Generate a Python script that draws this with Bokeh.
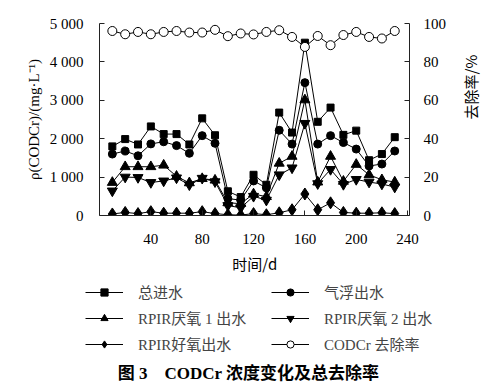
import math
from bokeh.plotting import figure
from bokeh.layouts import column
from bokeh.models import Range1d, LinearAxis, FixedTicker, Legend, LegendItem, Label
from bokeh.embed import file_html
from bokeh.resources import INLINE

days = [10, 20, 30, 40, 50, 60, 70, 80, 90, 100, 110, 120,
        130, 140, 150, 160, 170, 180, 190, 200, 210, 220, 230]
influent = [1800, 1990, 1850, 2320, 2120, 2120, 1850, 2530, 2090, 630, 480, 1060,
            800, 2680, 2160, 4500, 2440, 2810, 2100, 2210, 1440, 1600, 2040]
flotation = [1600, 1680, 1555, 1865, 1920, 1820, 1620, 2080, 1880, 440, 400, 900,
             720, 2220, 1860, 3460, 1860, 2080, 1900, 1730, 1290, 1340, 1680]
anaerobic1 = [860, 1270, 1270, 1270, 1310, 1020, 850, 960, 920, 330, 310, 560,
              490, 1360, 1540, 3010, 870, 1540, 890, 1330, 1060, 930, 870]
anaerobic2 = [640, 1000, 990, 860, 900, 980, 800, 970, 880, 260, 200, 500,
              400, 1060, 1240, 2400, 830, 1200, 810, 940, 870, 820, 740]
aerobic = [40, 80, 50, 100, 60, 60, 60, 100, 50, 20, 10, 50,
           20, 70, 150, 560, 150, 330, 80, 60, 60, 70, 50]
removal = [96.1, 94.4, 95.6, 94.4, 95.6, 96.1, 95.3, 95.3, 96.7, 93.4, 94.8, 94.3,
           95.6, 96.5, 93.0, 87.8, 93.5, 88.7, 94.0, 95.6, 93.0, 92.2, 96.1]

x_ticks = [40, 80, 120, 160, 200, 240]
y_ticks = [0, 1000, 2000, 3000, 4000, 5000]
y_tick_labels = ["0", "1 000", "2 000", "3 000", "4 000", "5 000"]
r_ticks = [0, 20, 40, 60, 80, 100]
series_labels = ["总进水", "气浮出水", "RPIR厌氧 1 出水", "RPIR厌氧 2 出水",
                 "RPIR好氧出水", "CODCr 去除率"]
markers = ["square", "circle", "triangle", "inverted_triangle", "diamond", "circle"]
marker_sizes = [7, 8, 10, 10, 12, 9]
fills = ["black", "black", "black", "black", "black", "white"]
fig_title = "图 3　CODCr 浓度变化及总去除率"

SERIF = "Liberation Serif, Noto Sans CJK SC"
CJK = "Noto Sans CJK SC"
W = 494

p = figure(width=W, height=280, x_range=Range1d(0, 241.5), y_range=Range1d(0, 5000),
           output_backend="svg", toolbar_location=None,
           min_border_left=99, min_border_right=77, min_border_top=23, min_border_bottom=65)
p.extra_y_ranges = {"pct": Range1d(0, 100)}
p.outline_line_color = None
p.xgrid.visible = False
p.ygrid.visible = False

right = LinearAxis(y_range_name="pct")
p.add_layout(right, "right")

for ax in [p.xaxis[0], p.yaxis[0], right]:
    ax.major_tick_in = 5
    ax.major_tick_out = 0
    ax.minor_tick_line_color = None
    ax.axis_line_color = "#222222"
    ax.major_tick_line_color = "#222222"
    ax.major_label_text_font = "Liberation Serif"
    ax.major_label_text_font_size = "15px"
    ax.major_label_text_color = "black"
    ax.axis_label_text_font_style = "normal"
    ax.axis_label_text_color = "black"
    ax.axis_label_text_font_size = "15px"

p.xaxis[0].ticker = FixedTicker(ticks=x_ticks)
p.xaxis[0].major_label_standoff = 18
p.xaxis[0].axis_label = "时间/d"
p.xaxis[0].axis_label_text_font = CJK
p.xaxis[0].axis_label_standoff = 6

p.yaxis[0].ticker = FixedTicker(ticks=y_ticks)
p.yaxis[0].major_label_overrides = {t: s for t, s in zip(y_ticks, y_tick_labels)}
p.yaxis[0].major_label_standoff = 16
p.yaxis[0].axis_label = "ρ(CODCr)/(mg·L⁻¹)"
p.yaxis[0].axis_label_text_font = "Liberation Serif"
p.yaxis[0].axis_label_standoff = 5

right.ticker = FixedTicker(ticks=r_ticks)
right.major_label_standoff = 14
right.axis_label = "去除率/%"
right.axis_label_text_font = CJK
right.axis_label_standoff = 21
right.axis_label_orientation = math.pi / 2
right.axis_label_text_align = "center"
right.axis_label_text_baseline = "middle"

all_y = [influent, flotation, anaerobic1, anaerobic2, aerobic, removal]
for i, y in enumerate(all_y):
    rng = "pct" if i == 5 else "default"
    p.line(days, y, line_color="black", line_width=1, y_range_name=rng)
    p.scatter(days, y, marker=markers[i], size=marker_sizes[i], fill_color=fills[i],
              line_color="black", line_width=1, y_range_name=rng)

# legend + caption panel (its x range lies away from the data, so only the
# legend glyphs of these renderers are visible)
p2 = figure(width=W, height=105, x_range=Range1d(-1000, -1000 + W), y_range=Range1d(0, 105),
            output_backend="svg", toolbar_location=None,
            x_axis_location=None, y_axis_location=None,
            min_border_left=0, min_border_right=0, min_border_top=0, min_border_bottom=0)
p2.outline_line_color = None
p2.xgrid.visible = False
p2.ygrid.visible = False
if "frame_align" in p2.properties():
    p.frame_align = False
    p2.frame_align = False

legend_rends = []
for i, y in enumerate(all_y):
    ln = p2.line(days, y, line_color="black", line_width=1)
    sc = p2.scatter(days, y, marker=markers[i], size=marker_sizes[i] - 1,
                    fill_color=fills[i], line_color="black", line_width=1)
    legend_rends.append([ln, sc])

order = [0, 2, 4, 1, 3, 5]   # column-major: left column, then right column
items = [LegendItem(label=series_labels[i], renderers=legend_rends[i]) for i in order]
legend = Legend(items=items, ncols=2, orientation="vertical", location=(85, 31),
                label_text_font=SERIF, label_text_font_size="15px",
                glyph_width=38, glyph_height=18, label_standoff=15,
                spacing=5, padding=0, margin=0, label_width=128,
                border_line_color=None, background_fill_alpha=0)
p2.add_layout(legend, "center")

cap = Label(x=-1000 + 248, y=12, text=fig_title, text_align="center",
            text_baseline="middle", text_font=SERIF, text_font_size="17px",
            text_font_style="bold", text_color="black")
p2.add_layout(cap)

layout = column(p, p2, spacing=0)
open("out.html", "w").write(file_html(layout, INLINE))
